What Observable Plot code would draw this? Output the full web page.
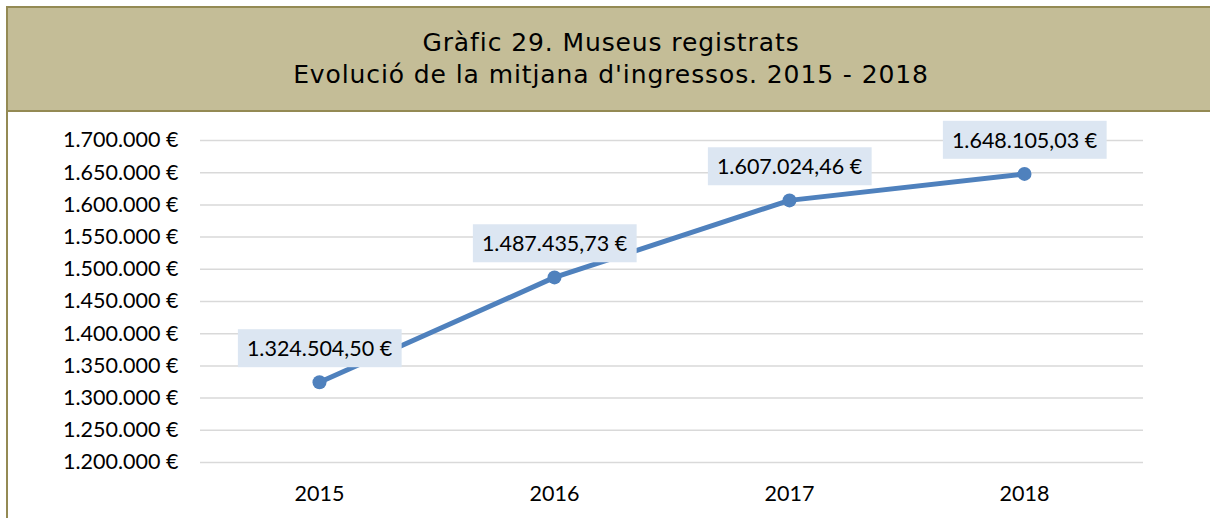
<!DOCTYPE html>
<html>
<head>
<meta charset="utf-8">
<script src="https://cdn.jsdelivr.net/npm/d3@7"></script>
<script src="https://cdn.jsdelivr.net/npm/@observablehq/plot@0.6"></script>
<style>
  html, body { margin: 0; padding: 0; background: #fff; overflow: hidden; }
  #wrap { position: relative; width: 1210px; height: 518px; overflow: hidden; }
  #frame { position: absolute; left: 6px; top: 6px; width: 1210px; height: 520px;
           border: 2px solid #948A54; border-bottom: none; box-sizing: border-box; }
  #title { position: absolute; left: 0; top: 0; right: 0; height: 104px; background: #C4BD97;
           border-bottom: 2px solid #948A54; box-sizing: border-box;
           display: flex; flex-direction: column; justify-content: center; align-items: center;
           font-family: "DejaVu Sans", Verdana, sans-serif; font-size: 25px; letter-spacing: 0.9px;
           line-height: 32px; color: #000; }
  #chart { position: absolute; left: 0; top: 110px; }
</style>
</head>
<body>
<div id="wrap">
  <div id="frame">
    <div id="title">
      <div>Gràfic 29. Museus registrats</div>
      <div>Evolució de la mitjana d'ingressos. 2015 - 2018</div>
    </div>
  </div>
  <div id="chart"></div>
</div>
<script>
const years = ["2015", "2016", "2017", "2018"];
const averageIncome = [1324504.50, 1487435.73, 1607024.46, 1648105.03];
const yTicks = [1200000, 1250000, 1300000, 1350000, 1400000, 1450000, 1500000, 1550000, 1600000, 1650000, 1700000];

const locale = d3.formatLocale({decimal: ",", thousands: ".", grouping: [3], currency: ["", " €"]});
const fmtTick = v => locale.format(",.0f")(v) + " €";
const fmtLabel = v => locale.format(",.2f")(v) + " €";

const data = years.map((y, i) => ({year: y, value: averageIncome[i]}));

const chart = Plot.plot({
  width: 1210,
  height: 408,
  marginLeft: 200,
  marginRight: 67,
  marginTop: 30,
  marginBottom: 56,
  style: {fontFamily: "Lato, sans-serif", fontSize: "21.5px", color: "#000", background: "transparent"},
  x: {type: "point", domain: years, padding: 0.5, label: null},
  y: {domain: [1200000, 1700000], label: null},
  marks: [
    Plot.gridY(yTicks, {stroke: "#D9D9D9", strokeOpacity: 1, strokeWidth: 1.5}),
    Plot.axisY(yTicks, {tickSize: 0, tickPadding: 22, tickFormat: fmtTick, fontSize: 21.5, label: null}),
    Plot.axisX({tickSize: 0, tickPadding: 23, fontSize: 21.5, label: null}),
    Plot.line(data, {x: "year", y: "value", stroke: "#4F81BD", strokeWidth: 5}),
    Plot.dot(data, {x: "year", y: "value", r: 7, fill: "#4F81BD"}),
    Plot.text(data, {x: "year", y: "value", text: d => fmtLabel(d.value), dy: -33, fontSize: 21.5, fill: "#000", className: "dlabel"})
  ]
});
document.getElementById("chart").appendChild(chart);

// add light-blue boxes behind data labels, sized from rendered text
const svgNS = "http://www.w3.org/2000/svg";
chart.querySelectorAll("g.dlabel").forEach(g => {
  const texts = Array.from(g.querySelectorAll("text"));
  texts.forEach(t => {
    const b = t.getBBox();
    const r = document.createElementNS(svgNS, "rect");
    const w = b.width + 18, h = 38;
    r.setAttribute("x", b.x + b.width / 2 - w / 2);
    r.setAttribute("y", b.y + b.height / 2 - h / 2);
    r.setAttribute("width", w);
    r.setAttribute("height", h);
    r.setAttribute("fill", "#DCE6F2");
    const tr = t.getAttribute("transform");
    if (tr) r.setAttribute("transform", tr);
    g.insertBefore(r, t);
  });
});
</script>
</body>
</html>
